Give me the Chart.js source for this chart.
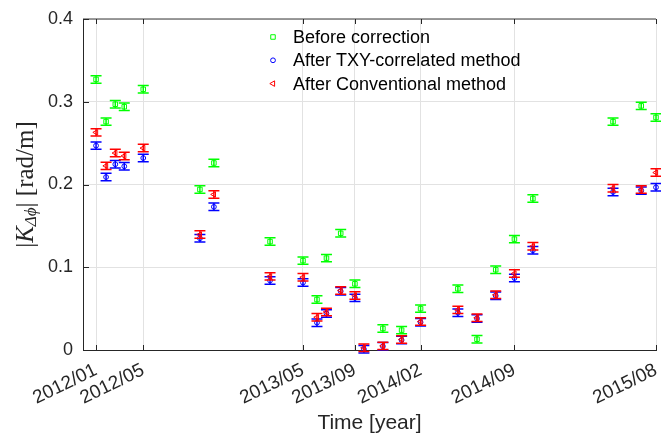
<!DOCTYPE html>
<html>
<head>
<meta charset="utf-8">
<script src="https://cdn.jsdelivr.net/npm/chart.js@4.4.0/dist/chart.umd.min.js"></script>
<style>
  html, body { margin: 0; padding: 0; background: #fff; }
  #wrap { width: 661px; height: 440px; }
</style>
</head>
<body>
<div id="wrap"><canvas id="kChart"></canvas></div>
<script>
// x positions in months since 2012/01
var dates = [0.32, 1.08, 1.78, 2.46, 3.90, 8.20, 9.26, 13.52, 16.02, 17.08, 17.80, 18.88, 19.96,
             20.64, 22.08, 23.50, 24.94, 27.77, 29.22, 30.64, 32.06, 33.46, 39.54, 41.68, 42.80];
var beforeCorr = [0.327, 0.276, 0.297, 0.294, 0.315, 0.194, 0.226, 0.131, 0.108, 0.061, 0.111, 0.141, 0.080,
                  null, 0.026, 0.024, 0.050, 0.074, 0.013, 0.097, 0.134, 0.183, 0.276, 0.295, 0.281];
var afterTxy = [0.247, 0.209, 0.2245, 0.222, 0.232, 0.135, 0.173, 0.084, 0.0815, 0.033, 0.044, 0.071, 0.063,
                0.001, 0.0045, 0.012, 0.0335, 0.045, 0.038, 0.0655, 0.087, 0.1205, 0.191, 0.1926, 0.1966];
var afterConv = [0.263, 0.2225, 0.238, 0.2345, 0.244, 0.1395, 0.188, 0.089, 0.088, 0.0396, 0.046, 0.072, 0.0658,
                 0.0027, 0.005, 0.0127, 0.0344, 0.0485, 0.0389, 0.0667, 0.0924, 0.1254, 0.1955, 0.194, 0.2144];
var errHalf = 0.0045;
var tickPos = [0.32, 3.90, 16.02, 19.96, 24.94, 32.06, 42.80];
var tickLabels = ['2012/01', '2012/05', '2013/05', '2013/09', '2014/02', '2014/09', '2015/08'];
var seriesNames = ['Before correction', 'After TXY-correlated method', 'After Conventional method'];

var axisColor = '#262626';
var gridColor = '#e2e2e2';
var clear = 'rgba(0,0,0,0)';
var sans = "'Liberation Sans', Arial, sans-serif";
var serif = "'Liberation Serif', 'DejaVu Serif', serif";

function toPoints(vals) {
	var pts = [];
	for (var i = 0; i < dates.length; i++) {
		if (vals[i] != null) pts.push({ x: dates[i], y: vals[i] });
	}
	return pts;
}

// error bars, drawn just before each dataset's markers
var errorBars = {
	id: 'errorBars',
	beforeDatasetDraw: function(chart, args) {
		var ds = chart.data.datasets[args.index];
		var xs = chart.scales.x, ys = chart.scales.y;
		var ctx = chart.ctx;
		ctx.save();
		ctx.strokeStyle = ds.borderColor;
		ctx.lineWidth = 1.5;
		ds.data.forEach(function(p) {
			var px = xs.getPixelForValue(p.x);
			var y1 = ys.getPixelForValue(p.y - errHalf);
			var y2 = ys.getPixelForValue(p.y + errHalf);
			ctx.beginPath();
			ctx.moveTo(px, y1); ctx.lineTo(px, y2);
			ctx.moveTo(px - 5.5, y1); ctx.lineTo(px + 5.5, y1);
			ctx.moveTo(px - 5.5, y2); ctx.lineTo(px + 5.5, y2);
			ctx.stroke();
		});
		ctx.restore();
	}
};

// frame, inward ticks, y label with subscript and legend
var decor = {
	id: 'decor',
	afterDraw: function(chart) {
		var ctx = chart.ctx, a = chart.chartArea;
		var xs = chart.scales.x, ys = chart.scales.y;
		ctx.save();
		// top frame line
		ctx.strokeStyle = '#7a7a7a';
		ctx.lineWidth = 1.5;
		ctx.beginPath();
		ctx.moveTo(a.left, a.top); ctx.lineTo(a.right, a.top);
		ctx.stroke();
		// inward ticks
		ctx.strokeStyle = axisColor;
		ctx.lineWidth = 1;
		ctx.beginPath();
		xs.ticks.forEach(function(t) {
			var px = Math.round(xs.getPixelForValue(t.value)) + 0.5;
			ctx.moveTo(px, a.bottom); ctx.lineTo(px, a.bottom - 5);
			ctx.moveTo(px, a.top); ctx.lineTo(px, a.top + 5);
		});
		ys.ticks.forEach(function(t) {
			var py = Math.round(ys.getPixelForValue(t.value)) + 0.5;
			ctx.moveTo(a.left, py); ctx.lineTo(a.left + 6, py);
		});
		ctx.stroke();

		// y axis label  |K_{Δφ}| [rad/m]
		var parts = [
			{ t: '|', f: '25px ' + serif, dy: 0 },
			{ t: 'K', f: 'italic 25px ' + serif, dy: 0 },
			{ t: 'Δϕ', f: 'italic 17px ' + serif, dy: 6 },
			{ t: '|', f: '25px ' + serif, dy: 0 },
			{ t: ' [rad/m]', f: '25px ' + serif, dy: 0 }
		];
		var total = 0;
		parts.forEach(function(p) { ctx.font = p.f; p.w = ctx.measureText(p.t).width; total += p.w; });
		ctx.translate(26, (a.top + a.bottom) / 2);
		ctx.rotate(-Math.PI / 2);
		ctx.fillStyle = axisColor;
		ctx.textBaseline = 'middle';
		ctx.textAlign = 'left';
		var cx = -total / 2;
		parts.forEach(function(p) { ctx.font = p.f; ctx.fillText(p.t, cx, p.dy); cx += p.w; });
		ctx.setTransform(1, 0, 0, 1, 0, 0);

		// legend
		var lx = a.left + 190, ly = a.top + 18;
		ctx.font = '18px ' + sans;
		ctx.textBaseline = 'middle';
		chart.data.datasets.forEach(function(ds, i) {
			var y = ly + i * 23.3;
			ctx.strokeStyle = ds.borderColor;
			ctx.fillStyle = clear;
			ctx.lineWidth = 1;
			Chart.helpers.drawPoint(ctx, { pointStyle: ds.pointStyle, rotation: ds.pointRotation || 0, radius: ds.pointRadius, borderWidth: 1 }, lx, y);
			ctx.fillStyle = '#000';
			ctx.fillText(seriesNames[i], lx + 20, y + 1);
		});
		ctx.restore();
	}
};

new Chart(document.getElementById('kChart'), {
	type: 'scatter',
	data: {
		datasets: [{
			label: seriesNames[0],
			data: toPoints(beforeCorr),
			borderColor: '#00ff00',
			backgroundColor: clear,
			pointBackgroundColor: clear,
			pointStyle: 'rect',
			pointRadius: 3.2,
			pointBorderWidth: 1,
			order: 3
		}, {
			label: seriesNames[1],
			data: toPoints(afterTxy),
			borderColor: '#0000ff',
			backgroundColor: clear,
			pointBackgroundColor: clear,
			pointStyle: 'circle',
			pointRadius: 2.4,
			pointBorderWidth: 1,
			order: 2
		}, {
			label: seriesNames[2],
			data: toPoints(afterConv),
			borderColor: '#ff0000',
			backgroundColor: clear,
			pointBackgroundColor: clear,
			pointStyle: 'triangle',
			pointRotation: -90,
			pointRadius: 3.2,
			pointBorderWidth: 1,
			order: 1
		}]
	},
	options: {
		responsive: true,
		maintainAspectRatio: false,
		animation: false,
		clip: false,
		layout: { padding: { top: 19, right: 4, left: 0, bottom: 0 } },
		plugins: { legend: { display: false }, tooltip: { enabled: false } },
		scales: {
			x: {
				type: 'linear',
				min: -0.67,
				max: 42.8,
				afterBuildTicks: function(s) {
					s.ticks = tickPos.map(function(v) { return { value: v }; });
				},
				afterFit: function(s) {
					s.height = 90;
					s.paddingLeft = 0; s.paddingRight = 0;
				},
				ticks: {
					autoSkip: false,
					minRotation: 26,
					maxRotation: 26,
					padding: 9,
					color: axisColor,
					font: { family: sans, size: 19 },
					callback: function(v, i) { return tickLabels[i]; }
				},
				grid: { color: gridColor, drawTicks: false },
				border: { color: axisColor, width: 1 },
				title: {
					display: true,
					text: 'Time [year]',
					color: axisColor,
					font: { family: sans, size: 21 },
					padding: { top: 2, bottom: 4 }
				}
			},
			y: {
				min: 0,
				max: 0.4,
				afterFit: function(s) {
					s.width = 83;
					s.paddingTop = 0; s.paddingBottom = 0;
				},
				ticks: {
					stepSize: 0.1,
					padding: 10,
					color: axisColor,
					font: { family: sans, size: 18 }
				},
				grid: { color: gridColor, drawTicks: false },
				border: { color: axisColor, width: 1 }
			}
		}
	},
	plugins: [errorBars, decor]
});
</script>
</body>
</html>
